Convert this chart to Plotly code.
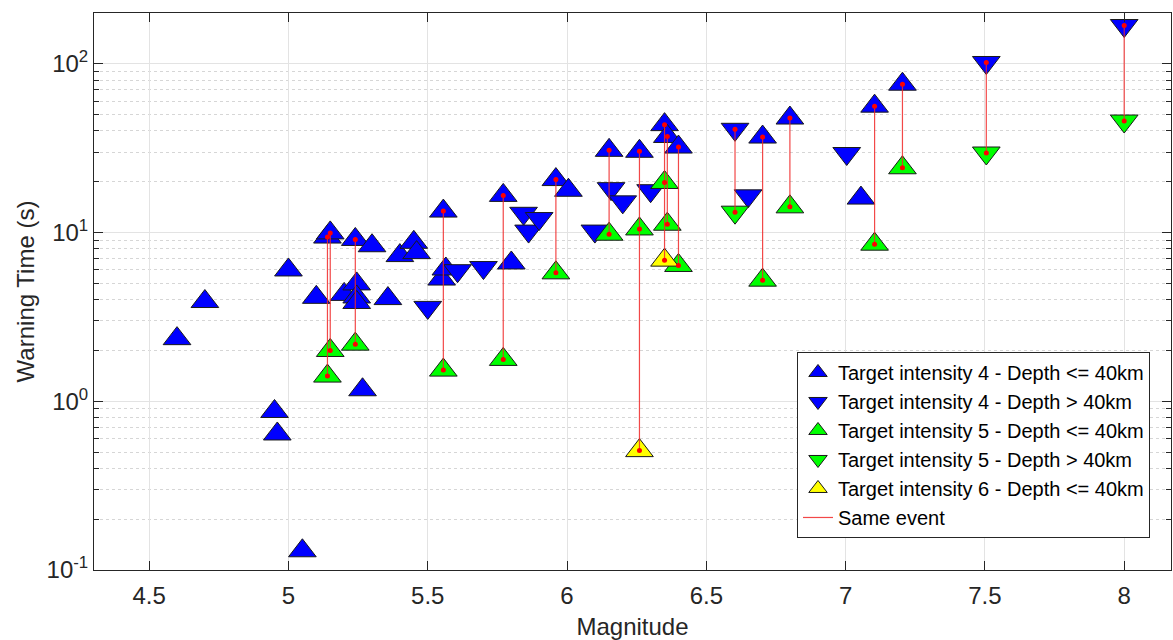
import plotly.graph_objects as go

# ---------------- data (magnitude, warning time [s], event id; 0 = no link) ----------------
# Target intensity 4 - Depth <= 40km
i4s_mag = [4.60, 4.70, 4.95, 4.96, 5.00, 5.05, 5.10, 5.14, 5.15, 5.20, 5.24, 5.245, 5.245, 5.245,
           5.266, 5.30, 5.357, 5.40, 5.45, 5.46, 5.55, 5.556, 5.565, 5.771, 5.80, 5.96, 6.005,
           6.151, 6.26, 6.35, 6.36, 6.40, 6.702, 6.80, 7.055, 7.104, 7.204]
i4s_time = [2.35, 3.9, 0.87, 0.64, 6.0, 0.13, 4.13, 9.4, 9.95, 4.3, 9.1, 4.96, 4.15, 3.85,
            1.17, 8.35, 4.06, 7.3, 8.75, 7.6, 5.3, 13.4, 6.08, 16.6, 6.6, 20.6, 17.8,
            30.7, 30.3, 43.6, 37.1, 32.1, 36.8, 47.7, 16.0, 56.1, 75.7]
i4s_event = [0, 0, 0, 0, 0, 0, 0, 2, 1, 0, 3, 0, 0, 0,
             0, 0, 0, 0, 0, 0, 0, 4, 0, 5, 0, 6, 0,
             7, 8, 9, 10, 11, 13, 14, 0, 15, 16]

# Target intensity 4 - Depth > 40km
i4d_mag = [5.50, 5.607, 5.70, 5.844, 5.862, 5.90, 6.10, 6.158, 6.20, 6.30, 6.603, 6.65, 7.004, 7.505, 8.0]
i4d_time = [3.6, 5.94, 6.2, 13.0, 10.2, 12.1, 10.2, 18.2, 15.2, 17.7, 40.9, 16.5, 29.4, 101.8, 168.6]
i4d_event = [0, 0, 0, 0, 0, 0, 0, 0, 0, 0, 12, 0, 0, 17, 18]

# Target intensity 5 - Depth <= 40km
i5s_mag = [5.15, 5.14, 5.24, 5.556, 5.771, 5.96, 6.151, 6.26, 6.35, 6.36, 6.40, 6.702, 6.80, 7.104, 7.204]
i5s_time = [2.0, 1.41, 2.18, 1.53, 1.77, 5.77, 9.77, 10.5, 19.8, 11.2, 6.38, 5.22, 14.2, 8.53, 24.2]
i5s_event = [1, 2, 3, 4, 5, 6, 7, 8, 9, 10, 11, 13, 14, 15, 16]

# Target intensity 5 - Depth > 40km
i5d_mag = [6.603, 7.505, 8.0]
i5d_time = [13.2, 29.6, 45.8]
i5d_event = [12, 17, 18]

# Target intensity 6 - Depth <= 40km
i6s_mag = [6.26, 6.35]
i6s_time = [0.51, 6.86]
i6s_event = [8, 9]

y_tickvals = [0.1, 1, 10, 100]
y_ticktext = ["10<sup>-1</sup>", "10<sup>0</sup>", "10<sup>1</sup>", "10<sup>2</sup>"]
x_tickvals = [4.5, 5, 5.5, 6, 6.5, 7, 7.5, 8]

series = [
    ("Target intensity 4 - Depth <= 40km", i4s_mag, i4s_time, i4s_event, "#0000ff", "triangle-up"),
    ("Target intensity 4 - Depth > 40km", i4d_mag, i4d_time, i4d_event, "#0000ff", "triangle-down"),
    ("Target intensity 5 - Depth <= 40km", i5s_mag, i5s_time, i5s_event, "#00ff00", "triangle-up"),
    ("Target intensity 5 - Depth > 40km", i5d_mag, i5d_time, i5d_event, "#00ff00", "triangle-down"),
    ("Target intensity 6 - Depth <= 40km", i6s_mag, i6s_time, i6s_event, "#ffff00", "triangle-up"),
]

FONT = "Liberation Sans, Arial, Helvetica, sans-serif"
fig = go.Figure()

for name, mx, ty, ev, col, sym in series:
    fig.add_trace(go.Scatter(
        x=mx, y=ty, mode="markers", name=name,
        marker=dict(symbol=sym, size=24, color=col, line=dict(color="#1a1a1a", width=1)),
    ))

# group linked points into events
events = {}
for name, mx, ty, ev, col, sym in series:
    for m, t, e in zip(mx, ty, ev):
        if e:
            events.setdefault(e, []).append((m, t))

lx, ly, dx, dy = [], [], [], []
for e in sorted(events):
    pts = sorted(events[e], key=lambda p: -p[1])
    for m, t in pts:
        lx.append(m); ly.append(t)
        dx.append(m); dy.append(t)
    lx.append(None); ly.append(None)

fig.add_trace(go.Scatter(x=lx, y=ly, mode="lines", name="Same event",
                         line=dict(color="rgba(240,40,40,0.85)", width=1.2)))
fig.add_trace(go.Scatter(x=dx, y=dy, mode="markers", showlegend=False,
                         marker=dict(symbol="circle", size=5, color="#ff0000")))

axis_line = "#262626"
fig.update_layout(
    width=1173, height=640,
    margin=dict(l=94, r=2, t=13, b=70),
    paper_bgcolor="white", plot_bgcolor="white",
    font=dict(family=FONT, size=24, color="#262626"),
    showlegend=True,
    legend=dict(
        x=0.9805, y=0.0575, xanchor="right", yanchor="bottom",
        bgcolor="white", bordercolor=axis_line, borderwidth=1,
        font=dict(family=FONT, size=20, color="black"),
        tracegroupgap=0, itemwidth=30,
    ),
    xaxis=dict(
        range=[4.302, 8.168],
        tickmode="array", tickvals=x_tickvals,
        ticks="inside", ticklen=9, tickcolor=axis_line,
        showline=True, linecolor=axis_line, linewidth=1, mirror="ticks",
        showgrid=True, gridcolor="#e3e3e3", gridwidth=1,
        zeroline=False, ticklabelstandoff=4,
        tickfont=dict(size=24, color="#262626"),
        title=dict(text="Magnitude", font=dict(size=24, color="#262626"), standoff=10),
    ),
    yaxis=dict(
        type="log", range=[-1, 2.30103],
        tickmode="array", tickvals=y_tickvals, ticktext=y_ticktext,
        ticks="inside", ticklen=9, tickcolor=axis_line,
        showline=True, linecolor=axis_line, linewidth=1, mirror="ticks",
        showgrid=True, gridcolor="#e3e3e3", gridwidth=1,
        zeroline=False,
        tickfont=dict(size=24, color="#262626"),
        minor=dict(dtick="D1", ticks="inside", ticklen=5, tickcolor=axis_line,
                   showgrid=True, gridcolor="#d6d6d6", griddash="dot", gridwidth=1),
        title=dict(text="Warning Time (s)", font=dict(size=24, color="#262626"), standoff=5),
    ),
)

fig.write_html("out.html")
